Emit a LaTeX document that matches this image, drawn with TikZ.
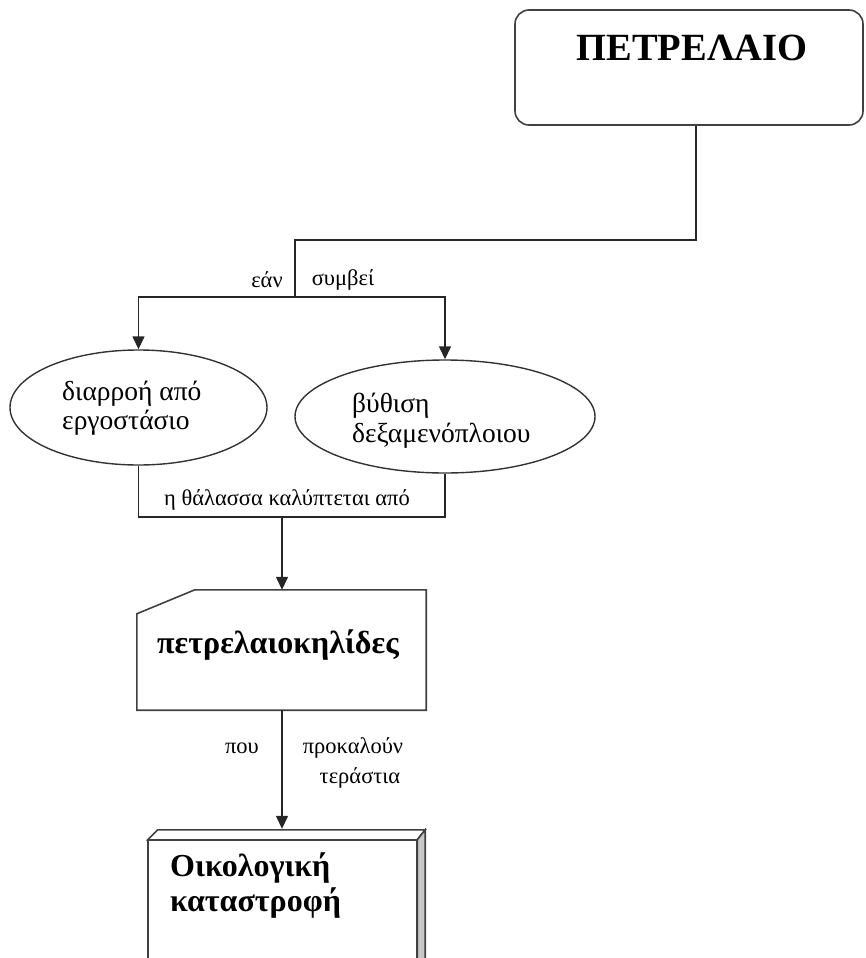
\documentclass[tikz,border=0pt]{standalone}
\usepackage{fontspec}
\setmainfont{Liberation Serif}
\usetikzlibrary{arrows.meta,shapes.geometric}
\tikzset{
  conn/.style={draw=black!85, line width=1.4pt},
  arr/.style={conn, -{Triangle[length=13pt,width=12pt]}},
  lbl/.style={font=\fontsize{22.5}{26}\selectfont, inner sep=0pt},
  etxt/.style={font=\fontsize{27.5}{29.5}\selectfont, align=left, inner sep=0pt, anchor=west},
  bigtxt/.style={font=\fontsize{38.5}{44}\selectfont\bfseries, inner sep=0pt},
  boldtxt/.style={font=\fontsize{32}{35}\selectfont\bfseries, inner sep=0pt},
  oval/.style={ellipse, draw=black!80, line width=1.4pt, inner sep=0pt},
  boxline/.style={draw=black!75, line width=1.6pt},
}
\begin{document}
\begin{tikzpicture}[x=1pt,y=-1pt]
\useasboundingbox (0,0) rectangle (865,958);
\clip (0,0) rectangle (865,958);
% top box
\node[boxline, rounded corners=14pt, minimum width=348pt, minimum height=115pt, inner sep=0pt] (oil) at (689,67.5) {};
\node[bigtxt] (oiltxt) at (692,48) {ΠΕΤΡΕΛΑΙΟ};
% junctions
\coordinate (j1) at (696,240);
\coordinate (j2) at (295,240);
\coordinate (j3) at (295,297);
% ellipses
\node[oval, minimum width=257pt, minimum height=115pt] (e1) at (138.5,407.5) {};
\node[oval, minimum width=300pt, minimum height=113pt] (e2) at (445,416.5) {};
\node[etxt] (e1t) at (62,408) {διαρροή από\\εργοστάσιο};
\node[etxt] (e2t) at (352,420.5) {βύθιση\\δεξαμενόπλοιου};
% connectors top
\draw[conn] (oil.south -| j1) -- (j1) -- (j2) -- (j3);
\draw[arr] (j3) -| (e1.north);
\draw[arr] (j3) -| (e2.north);
\node[lbl] (ean) at (267,280) {εάν};
\node[lbl] (symb) at (343,280) {συμβεί};
% bottom of ellipses
\coordinate (j4) at (282,517);
\draw[conn] (e1.south) |- (j4);
\draw[conn] (e2.south) |- (j4);
\node[lbl] (thal) at (287,500) {η θάλασσα καλύπτεται από};
% card
\node[minimum width=289pt, minimum height=120pt, inner sep=0pt] (card) at (281.5,650) {};
\draw[boxline, line join=miter] (card.south west) -- ([yshift=-24pt]card.north west) -- ([xshift=58pt]card.north west) -- (card.north east) -- (card.south east) -- cycle;
\node[boldtxt] (cardt) at (278,645) {πετρελαιοκηλίδες};
\draw[arr] (j4) -- (card.north -| j4);
% eco cube
\node[minimum width=269pt, minimum height=160pt, inner sep=0pt] (eco) at (282.5,920) {};
\draw[boxline, fill=white] (eco.north west) -- ++(10,-10) -- ([xshift=8pt,yshift=10pt]eco.north east) -- (eco.north east) -- cycle;
\draw[boxline, fill=black!22] (eco.north east) -- ++(8,-10) -- ([xshift=8pt,yshift=10pt]eco.south east) -- (eco.south east) -- cycle;
\draw[boxline] (eco.north west) rectangle (eco.south east);
\node[boldtxt, align=left, anchor=north west] (ecot) at (170,853) {Οικολογική\\καταστροφή};
\draw[arr] (card.south -| j4) -- ([yshift=11pt]eco.north -| j4);
\node[lbl] (pou) at (242,748) {που};
\node[lbl] (prok) at (353,748) {προκαλούν};
\node[lbl] (ter) at (360,778) {τεράστια};
\end{tikzpicture}
\end{document}
